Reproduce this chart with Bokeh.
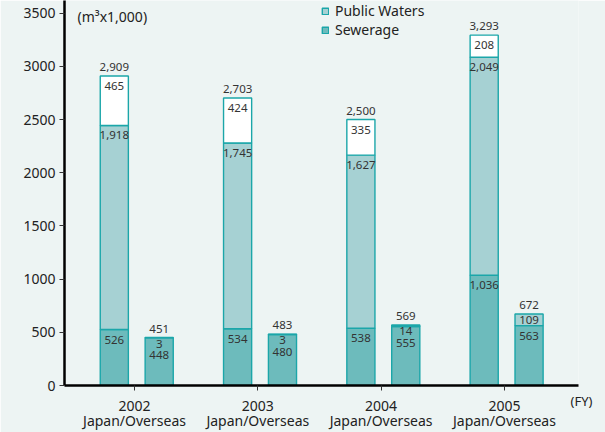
import numpy as np
from bokeh.plotting import figure
from bokeh.models import (ColumnDataSource, FixedTicker, Legend, LegendItem, Label,
                          Range1d, LinearAxis)
from bokeh.core.properties import value
from bokeh.embed import file_html
from bokeh.resources import INLINE

# ---- data ----
years = ["2002", "2003", "2004", "2005"]
sub_label = "Japan/Overseas"
fy_label = "(FY)"
unit_label = "(m³x1,000)"
japan_sewerage = [526, 534, 538, 1036]
japan_public = [1918, 1745, 1627, 2049]
japan_other = [465, 424, 335, 208]
overseas_sewerage = [448, 480, 555, 563]
overseas_public = [3, 3, 14, 109]
y_ticks = [0, 500, 1000, 1500, 2000, 2500, 3000, 3500]

# ---- style ----
BG = "#edf4f3"
SEW = "#6dbbbc"
PUB = "#a6d1d3"
EDGE = "#1ba6a9"
TXT = "#333333"
FONT = "Noto Sans"

W, H = 605, 432
MB_L, MB_R, MB_T, MB_B = 64, 27, 0, 46
X0, X1 = -0.568, 3.601
frame_w = W - MB_L - MB_R
frame_h = H - MB_T - MB_B
ky = 320 / 3000
Y1 = frame_h / ky
kx = frame_w / (X1 - X0)

idx = np.arange(len(years))
bw = 0.228
j_sew = np.array(japan_sewerage)
j_pub = np.array(japan_public)
j_oth = np.array(japan_other)
o_sew = np.array(overseas_sewerage)
o_pub = np.array(overseas_public)

jsrc = ColumnDataSource(dict(
    x=idx - 0.164,
    sew=j_sew,
    pub_top=j_sew + j_pub,
    tot=j_sew + j_pub + j_oth,
    sew_lbl=[f"{v:,}" for v in j_sew],
    pub_lbl=[f"{v:,}" for v in j_pub],
    oth_lbl=[f"{v:,}" for v in j_oth],
    tot_lbl=[f"{v:,}" for v in (j_sew + j_pub + j_oth)],
))
o_tot = o_sew + o_pub
osrc = ColumnDataSource(dict(
    x=idx + 0.2,
    sew=o_sew,
    tot=o_tot,
    sew_lbl_y=np.minimum(o_sew, o_tot - 8 / ky),
    sew_lbl=[f"{v:,}" for v in o_sew],
    pub_lbl=[f"{v:,}" for v in o_pub],
    tot_lbl=[f"{v:,}" for v in o_tot],
))

p = figure(width=W, height=H, output_backend="svg", toolbar_location=None,
           x_range=Range1d(X0, X1), y_range=Range1d(0, Y1),
           min_border_left=MB_L, min_border_right=MB_R,
           min_border_top=MB_T, min_border_bottom=MB_B,
           background_fill_color=BG, border_fill_color=BG,
           outline_line_color=None)
p.xgrid.visible = False
p.ygrid.visible = False

common = dict(width=bw, line_color=EDGE, line_width=1.4)
r_sew = p.vbar(x="x", bottom=0, top="sew", fill_color=SEW, source=jsrc, **common)
r_pub = p.vbar(x="x", bottom="sew", top="pub_top", fill_color=PUB, source=jsrc, **common)
p.vbar(x="x", bottom="pub_top", top="tot", fill_color="white", source=jsrc, **common)
p.vbar(x="x", bottom=0, top="sew", fill_color=SEW, source=osrc, **common)
p.vbar(x="x", bottom="sew", top="tot", fill_color=PUB, source=osrc, **common)

tkw = dict(text_align="center", text_baseline="middle", text_font=value(FONT),
           text_font_size="11.5px", text_color=TXT)
p.text(x="x", y="sew", text="sew_lbl", y_offset=10, source=jsrc, **tkw)
p.text(x="x", y="pub_top", text="pub_lbl", y_offset=10, source=jsrc, **tkw)
p.text(x="x", y="tot", text="oth_lbl", y_offset=10, source=jsrc, **tkw)
p.text(x="x", y="tot", text="tot_lbl", y_offset=-9, source=jsrc, **tkw)
p.text(x="x", y="tot", text="pub_lbl", y_offset=6, source=osrc, **tkw)
p.text(x="x", y="sew_lbl_y", text="sew_lbl", y_offset=10, source=osrc, **tkw)
p.text(x="x", y="tot", text="tot_lbl", y_offset=-9, source=osrc, **tkw)

# axes
for ax in (p.xaxis, p.yaxis):
    ax.axis_line_color = "black"
    ax.axis_line_width = 2.5
    ax.major_tick_out = 5
    ax.major_tick_in = 0
    ax.minor_tick_out = 0
    ax.minor_tick_in = 0
    ax.major_tick_line_color = "#333333"
    ax.major_label_text_font = FONT
    ax.major_label_text_font_size = "14px"
    ax.major_label_text_color = "#222222"
p.yaxis.ticker = FixedTicker(ticks=y_ticks)
p.yaxis.major_label_standoff = 4
p.xaxis.ticker = FixedTicker(ticks=[int(i) for i in idx])
p.xaxis.major_label_overrides = {int(i): f"{y}\n{sub_label}" for i, y in zip(idx, years)}
p.xaxis.major_label_standoff = 5
p.xaxis.major_label_text_line_height = 0.8

# "(FY)" as the single label of an invisible right axis, pushed below the frame edge
p.extra_y_ranges = {"fy": Range1d(0, 1)}
fy_axis = LinearAxis(y_range_name="fy", ticker=FixedTicker(ticks=[0]),
                     major_label_overrides={0: "\n\n" + fy_label},
                     axis_line_color=None, major_tick_line_color=None,
                     minor_tick_line_color=None, major_label_standoff=-14,
                     major_label_text_font=FONT, major_label_text_font_size="13px",
                     major_label_text_color="#222222",
                     major_label_text_line_height=0.86)
p.add_layout(fy_axis, "right")

# unit label
p.add_layout(Label(x=X0 + 13 / kx, y=Y1 - 16 / ky, text=unit_label,
                   text_font=FONT, text_font_size="14px", text_color="#222222",
                   text_align="left", text_baseline="middle"))

legend = Legend(items=[LegendItem(label="Public Waters", renderers=[r_pub]),
                       LegendItem(label="Sewerage", renderers=[r_sew])],
                location=(257, 346), orientation="vertical",
                glyph_width=8, glyph_height=8, label_height=16, label_standoff=6,
                spacing=0, padding=0, margin=0,
                label_text_font=FONT, label_text_font_size="14px",
                label_text_color="#222222",
                background_fill_alpha=0, border_line_alpha=0)
p.add_layout(legend)

html = file_html(p, INLINE)
html = html.replace("<body>", f'<body style="background-color:{BG}">', 1)
open("out.html", "w").write(html)
